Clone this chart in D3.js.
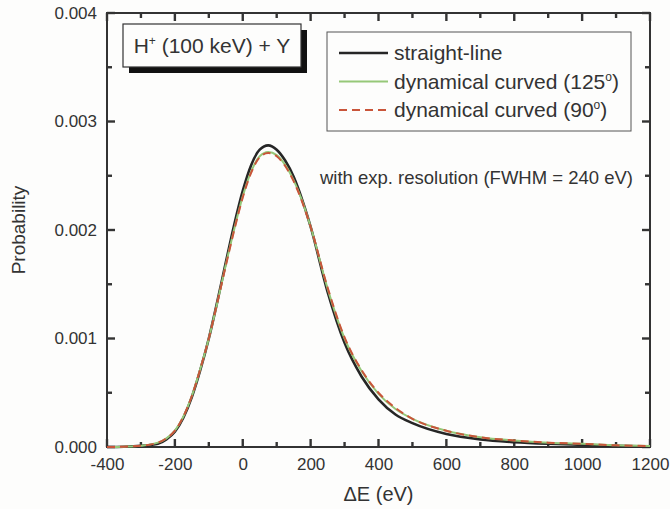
<!DOCTYPE html>
<html>
<head>
<meta charset="utf-8">
<script src="https://cdn.jsdelivr.net/npm/d3@7"></script>
<style>
  body { margin: 0; background: #fdfdfc; }
  svg { display: block; font-family: "Liberation Sans", Arial, sans-serif; }
</style>
</head>
<body>
<svg id="chart"></svg>
<script>
const width = 670;
const height = 509;
const margin = { top: 13, right: 20, bottom: 62, left: 107 };
const font = "Liberation Sans, Arial, sans-serif";

// energy loss grid (eV)
const energy = [-400, -350, -300, -250, -225, -200, -175, -150, -125, -100, -75, -50, -25, 0, 25, 50, 75,
  100, 125, 150, 175, 200, 250, 300, 350, 400, 450, 500, 600, 700, 800, 900, 1000, 1100, 1200];

const straightLine = [0, 0.000002, 0.00001, 0.00003, 0.00007, 0.00014, 0.00027, 0.00046, 0.00071,
  0.00100, 0.00134, 0.00170, 0.00205, 0.00236, 0.00260, 0.00274, 0.00278, 0.00274, 0.00264,
  0.00249, 0.00228, 0.00203, 0.00143, 0.00096, 0.00065, 0.00044, 0.00030, 0.00022, 0.00012,
  0.00007, 0.000045, 0.00003, 0.00002, 0.00001, 0.000005];

const curved125 = [0, 0.000003, 0.000012, 0.00004, 0.00008, 0.00015, 0.00028, 0.00047, 0.00072,
  0.00100, 0.00133, 0.00168, 0.00201, 0.00231, 0.00254, 0.00268, 0.00272, 0.00269, 0.00260,
  0.00246, 0.00227, 0.00203, 0.00146, 0.00100, 0.00070, 0.00049, 0.00035, 0.00026, 0.00015,
  0.00009, 0.00006, 0.00004, 0.00003, 0.000015, 0.00001];

const curved90 = [0, 0.000003, 0.000012, 0.00004, 0.00008, 0.00015, 0.00028, 0.00047, 0.00072,
  0.00100, 0.00133, 0.00167, 0.00200, 0.00230, 0.00253, 0.00267, 0.00271, 0.00268, 0.00259,
  0.00245, 0.00226, 0.00203, 0.00147, 0.00101, 0.00071, 0.00050, 0.00036, 0.00026, 0.00015,
  0.00009, 0.00006, 0.00004, 0.00003, 0.000015, 0.00001];

const xTicks = [-400, -200, 0, 200, 400, 600, 800, 1000, 1200];
const yTicks = [0, 0.001, 0.002, 0.003, 0.004];

const series = [
  { name: "straight-line", values: straightLine, color: "#262626", width: 2.6, dash: null },
  { name: "dynamical curved (125", values: curved125, color: "#96c878", width: 2, dash: null },
  { name: "dynamical curved (90", values: curved90, color: "#c9553a", width: 2, dash: "8,5" }
];

const ink = "#333";
const iw = width - margin.left - margin.right;
const ih = height - margin.top - margin.bottom;

const svg = d3.select("#chart")
  .attr("width", width)
  .attr("height", height);

const g = svg.append("g")
  .attr("transform", "translate(" + margin.left + "," + margin.top + ")");

const xScale = d3.scaleLinear().domain([-400, 1200]).range([0, iw]);
const yScale = d3.scaleLinear().domain([0, 0.004]).range([ih, 0]);

const xMinor = d3.range(-300, 1200, 200);
const yMinor = d3.range(0.0005, 0.004, 0.001);

// tick labels from d3 axes, tick marks drawn inward by hand
g.append("g")
  .attr("transform", "translate(0," + ih + ")")
  .call(d3.axisBottom(xScale).tickValues(xTicks).tickSize(0).tickPadding(11).tickFormat(d => String(d)))
  .call(sel => {
    sel.attr("font-family", font);
    sel.select(".domain").remove();
    sel.selectAll(".tick text").attr("fill", ink).attr("font-size", "17px");
  });
g.append("g")
  .call(d3.axisLeft(yScale).tickValues(yTicks).tickSize(0).tickPadding(10).tickFormat(d3.format(".3f")))
  .call(sel => {
    sel.attr("font-family", font);
    sel.select(".domain").remove();
    sel.selectAll(".tick text").attr("fill", ink).attr("font-size", "17px");
  });

const ticks = g.append("g").attr("stroke", ink).attr("stroke-width", 2.4);
function xTickMarks(vals, len) {
  ticks.selectAll(null).data(vals).join("line")
    .attr("x1", d => xScale(d)).attr("x2", d => xScale(d))
    .attr("y1", ih).attr("y2", ih - len);
  ticks.selectAll(null).data(vals).join("line")
    .attr("x1", d => xScale(d)).attr("x2", d => xScale(d))
    .attr("y1", 0).attr("y2", len);
}
function yTickMarks(vals, len) {
  ticks.selectAll(null).data(vals).join("line")
    .attr("y1", d => yScale(d)).attr("y2", d => yScale(d))
    .attr("x1", 0).attr("x2", len);
  ticks.selectAll(null).data(vals).join("line")
    .attr("y1", d => yScale(d)).attr("y2", d => yScale(d))
    .attr("x1", iw).attr("x2", iw - len);
}
xTickMarks(xTicks, 8);
xTickMarks(xMinor, 5);
yTickMarks(yTicks, 8);
yTickMarks(yMinor, 5);

// frame
g.append("rect")
  .attr("width", iw).attr("height", ih)
  .attr("fill", "none").attr("stroke", ink).attr("stroke-width", 2);

// curves
const line = d3.line()
  .x((d, i) => xScale(energy[i]))
  .y(d => yScale(d))
  .curve(d3.curveMonotoneX);

series.forEach(s => {
  g.append("path")
    .datum(s.values)
    .attr("fill", "none")
    .attr("stroke", s.color)
    .attr("stroke-width", s.width)
    .attr("stroke-dasharray", s.dash)
    .attr("d", line);
});

// axis titles
svg.append("text")
  .attr("x", margin.left + iw / 2)
  .attr("y", 501)
  .attr("text-anchor", "middle")
  .attr("font-size", "20px")
  .attr("fill", ink)
  .text("\u0394E (eV)");

svg.append("text")
  .attr("transform", "translate(25," + (margin.top + ih / 2) + ") rotate(-90)")
  .attr("text-anchor", "middle")
  .attr("font-size", "19px")
  .attr("fill", ink)
  .text("Probability");

// title box with shadow
const tb = { x: 123 - margin.left, y: 24 - margin.top, w: 178, h: 43 };
g.append("rect")
  .attr("x", tb.x + 6).attr("y", tb.y + 6)
  .attr("width", tb.w).attr("height", tb.h)
  .attr("fill", "#111");
g.append("rect")
  .attr("x", tb.x).attr("y", tb.y)
  .attr("width", tb.w).attr("height", tb.h)
  .attr("fill", "#fdfdfc").attr("stroke", ink).attr("stroke-width", 1.2);
const title = g.append("text")
  .attr("x", tb.x + tb.w / 2).attr("y", tb.y + 29)
  .attr("text-anchor", "middle")
  .attr("font-size", "21px")
  .attr("fill", ink);
title.append("tspan").text("H");
title.append("tspan").attr("dy", -8).attr("font-size", "12px").text("+");
title.append("tspan").attr("dy", 8).text(" (100 keV) + Y");

// legend
const lg = g.append("g")
  .attr("transform", "translate(" + (327 - margin.left) + "," + (32 - margin.top) + ")");
lg.append("rect")
  .attr("width", 304).attr("height", 99)
  .attr("fill", "#fdfdfc").attr("stroke", "#555").attr("stroke-width", 1);
series.forEach((s, i) => {
  const yy = 21 + i * 28.5;
  lg.append("line")
    .attr("x1", 12).attr("x2", 61)
    .attr("y1", yy).attr("y2", yy)
    .attr("stroke", s.color)
    .attr("stroke-width", s.width)
    .attr("stroke-dasharray", s.dash);
  const t = lg.append("text")
    .attr("x", 67).attr("y", yy + 7)
    .attr("font-size", "21px")
    .attr("fill", ink);
  t.append("tspan").text(s.name);
  if (i > 0) {
    t.append("tspan").attr("dy", -8).attr("font-size", "12px").text("o");
    t.append("tspan").attr("dy", 8).text(")");
  }
});

// annotation
g.append("text")
  .attr("x", 633 - margin.left)
  .attr("y", 184 - margin.top)
  .attr("text-anchor", "end")
  .attr("font-size", "18.5px")
  .attr("fill", ink)
  .text("with exp. resolution (FWHM = 240 eV)");
</script>
</body>
</html>
